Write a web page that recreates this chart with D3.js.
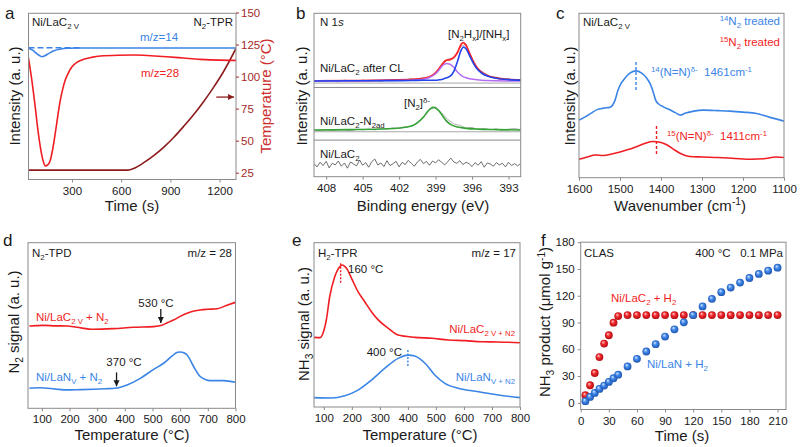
<!DOCTYPE html>
<html>
<head>
<meta charset="utf-8">
<script src="https://cdn.jsdelivr.net/npm/d3@7/dist/d3.min.js"></script>
<style>
  body { margin: 0; background: #fff; }
  text { font-family: "Liberation Sans", Arial, sans-serif; white-space: pre; }
</style>
</head>
<body>
<script>
// ---------- data ----------

// a: N2-TPR, intensity in arbitrary units, temperature in degC
const aTimeRed = [35, 55, 76, 92, 107, 122, 137, 152, 168, 183, 198, 214, 229, 244, 259, 280, 300, 330, 371, 420, 473, 580, 676, 780, 879, 980, 1082, 1200, 1300];
const aRed = [73, 60, 43.7, 30, 19.6, 12, 8.2, 8.8, 11.6, 18.5, 27.7, 38.5, 47.8, 54.5, 59.8, 64.5, 67.8, 70.5, 72.3, 73.5, 74.3, 74.8, 74.9, 74.5, 73.9, 73.1, 72.3, 71.8, 71.7];
const aTimeBlue = [35, 60, 85, 105, 117, 135, 160, 190, 230, 270, 350, 700, 1000, 1300];
const aBlue = [79.1, 77.8, 75.8, 74.4, 73.9, 74.5, 75.9, 77.4, 78.5, 79.0, 79.1, 79.1, 79.1, 79.1];
const aTimeDash = [35, 350];
const aDash = [79.3, 79.3];
const aTimeTemp = [35, 640, 680, 740, 800, 860, 920, 980, 1040, 1100, 1160, 1220, 1300];
const aTemp = [27, 27, 28.5, 33, 38.5, 45, 52.5, 61, 70, 80, 91, 103, 122];

// b: N 1s XPS, fitted components (above each spectrum's baseline)
const bEv = [409, 406, 403, 401, 400, 399.5, 399, 398.7, 398.4, 398.1, 397.8, 397.5, 397.2, 396.9, 396.7, 396.5, 396.2, 395.9, 395.6, 395.2, 394.7, 394, 393, 392];
const bNHx = [0.1, 0.2, 0.3, 0.4, 0.5, 0.5, 0.5, 0.8, 1.2, 2, 3, 6, 12, 19, 20.9, 19.8, 15.5, 11, 7.5, 4.8, 3, 1.7, 0.9, 0.6];
const bN2Hx = [0, 0.1, 0.3, 0.6, 1.2, 2.2, 4.5, 7, 9.7, 10.8, 10.2, 8.5, 5.5, 3.5, 2.6, 2.1, 1.5, 1.1, 0.8, 0.5, 0.3, 0.2, 0.1, 0];
const bEnvelope = [0.1, 0.3, 0.6, 1.0, 1.7, 2.7, 5.0, 7.8, 10.9, 12.8, 13.2, 14.5, 17.5, 22.5, 23.5, 21.9, 17.0, 12.1, 8.3, 5.3, 3.3, 1.9, 1.0, 0.6];
const bEvN2 = [409, 406, 403, 402, 401, 400.5, 400, 399.7, 399.4, 399.2, 399, 398.7, 398.4, 398.1, 397.7, 397.2, 396.5, 395.5, 394, 392];
const bN2ad = [0.1, 0.3, 0.8, 1.3, 2.5, 4.5, 8, 11, 13.3, 13.9, 13.5, 11.5, 8.5, 5.5, 3.2, 1.9, 1.1, 0.6, 0.3, 0.1];
const bRawCL = [0.3, -0.4, 0.5, 0.1, -0.5, 0.6, 0.2, -0.3, 0.7, 0.0, 0.4, -0.2, 0.9, 0.3, 1.1, 0.6, 1.6, 1.0, 2.3, 2.2, 5.5, 9.5, 13.5, 14.0, 20.5, 22.8, 13.5, 7.0, 5.2, 2.8, 2.5, 1.0, 1.6, 0.4, 0.9];
const bRawN2 = [0.2, -0.3, 0.4, -0.2, 0.3, 0.1, -0.4, 0.5, 0.2, 0.6, 0.1, 0.9, 0.5, 1.4, 1.0, 2.0, 2.2, 4.8, 7.5, 12.5, 14.2, 10.5, 6.5, 3.8, 2.9, 1.2, 1.6, 0.4, 1.0, 0.2, 0.8, -0.2, 0.6, 1.0, 0.3];
const bRawBare = [0.4, -1.6, 1.2, -0.8, 1.8, -2.2, 0.6, -0.4, 2.0, -1.2,
  0.8, -2.4, 1.4, 0.2, -1.0, 2.6, -0.6, 1.0, -1.8, 1.6,
  3.2, -0.4, 0.8, -1.4, 2.2, -0.8, 0.4, 1.8, -1.6, 1.2,
  -0.2, 2.4, 0.6, -1.2, 1.4, 3.0, 0.4, 1.8, -0.6, 2.0,
  0.8, 2.8, 1.2, -0.4, 1.6, 3.8, 1.4, 0.6, 2.2, -0.2,
  1.2, 0.4, -1.4, 1.0, -0.6, 1.6, -1.8, 0.8, 0.2, -1.2,
  1.0, -0.4, 0.6, -1.6, 1.2, -0.8, 0.4, -1.0, 0.6];
const bOffsets = { cl: 58.5, n2: 28.5, bare: 7.6 };

// c: Raman / IR spectra
const cWnBlue = [1600, 1585, 1570, 1556, 1540, 1524, 1512, 1505, 1497, 1490, 1475, 1461, 1448, 1436, 1426, 1419, 1413, 1405, 1394, 1380, 1365, 1353, 1340, 1320, 1297, 1260, 1232, 1200, 1167, 1134, 1100];
const cBlue = [35.0, 37.0, 39.3, 41.4, 42.3, 42.9, 47.2, 53.2, 57.5, 59.9, 63.8, 65.0, 63.8, 61.0, 56.9, 52.2, 47.2, 44.7, 43.1, 41.5, 39.6, 38.1, 39.3, 40.5, 41.1, 40.8, 40.5, 39.9, 39.1, 36.7, 34.4];
const cWnRed = [1600, 1580, 1560, 1540, 1520, 1500, 1480, 1460, 1440, 1420, 1400, 1385, 1370, 1350, 1330, 1300, 1260, 1220, 1180, 1150, 1120, 1100];
const cRed = [11.2, 12.6, 13.8, 13.5, 14.4, 15.6, 17.1, 18.9, 20.8, 22.0, 21.4, 19.9, 17.4, 14.4, 12.9, 12.6, 12.3, 11.7, 11.2, 11.5, 12.6, 12.3];

// d: N2-TPD
const dTempRed = [55, 106, 150, 191, 227, 287, 359, 432, 504, 534, 555, 576, 600, 625, 650, 673, 700, 733, 769, 800];
const dRed = [49.7, 50.1, 49.8, 49.7, 48.9, 47.7, 48.1, 48.9, 49.3, 50.1, 51.8, 53.3, 55.5, 57.4, 58.7, 59.4, 59.8, 60.1, 62.2, 64.0];
const dTempBlue = [55, 94, 150, 191, 240, 287, 330, 366, 408, 456, 504, 540, 571, 590, 601, 613, 625, 649, 673, 709, 757, 800];
const dBlue = [12.1, 12.4, 11.6, 11.1, 11.3, 11.5, 11.8, 12.1, 14.1, 18.1, 23.5, 27.2, 31.6, 33.8, 34.0, 33.5, 32.2, 25.1, 19.1, 16.7, 16.7, 15.7];

// e: H2-TPR
const eTempRed = [65, 86, 97, 109, 121, 139, 157, 165, 181, 199, 222, 246, 270, 294, 330, 365, 425, 485, 544, 604, 663, 722, 800];
const eRed = [42.4, 42.2, 44.9, 53.0, 67.1, 79.3, 85.4, 86.4, 84.4, 78.3, 70.2, 64.1, 58.0, 53.0, 47.9, 43.8, 42.4, 41.8, 40.8, 40.4, 39.7, 39.6, 39.1];
const eTempBlue = [65, 127, 175, 222, 270, 318, 365, 401, 425, 461, 496, 532, 580, 651, 723, 800];
const eBlue = [5.7, 5.5, 6.9, 10.3, 16.4, 23.6, 29.6, 31.6, 31.0, 26.6, 19.5, 14.4, 11.4, 9.3, 7.3, 5.7];

// f: CLAS NH3 product
const fTime = [5, 10, 15, 20, 25, 30, 35, 40, 50, 60, 70, 80, 90, 100, 110, 120, 130, 140, 150, 160, 170, 180, 190, 200, 210];
const fLaC2 = [8.5, 19.7, 33.4, 51.2, 66.4, 75.7, 89.8, 97.2, 98.3, 98.3, 98.3, 98.2, 98.3, 98.2, 98.3, 98.3, 98.3, 98.3, 98.3, 98.2, 98.3, 98.3, 98.2, 98.3, 98.3];
const fLaN = [1.8, 6.6, 11.1, 15.6, 19.3, 23.4, 27.5, 31.5, 40.8, 49.3, 57.5, 65.7, 74.2, 82.4, 90.2, 98.3, 108, 116.5, 124, 129.2, 134.7, 139.9, 144.4, 148.1, 151.4];

// ---------- styles ----------
const ink = '#1a1a1a';
const frameCol = '#8a8a8a';
const blue = '#3a84e6';
const red = '#f01e23';
const tickFs = 11.5, titleFs = 15, noteFs = 11.5;

const svg = d3.select('body').append('svg').attr('width', 800).attr('height', 447);
const defs = svg.append('defs');

function rich(x, y, parts, o = {}) {
  const fs = o.size || noteFs;
  const t = svg.append('text').attr('x', x).attr('y', y)
    .attr('font-size', fs).attr('fill', o.color || ink)
    .attr('text-anchor', o.anchor || 'start');
  if (o.rotate) t.attr('transform', `rotate(-90,${x},${y})`);
  let off = 0;
  parts.forEach(p => {
    const [s, k] = Array.isArray(p) ? p : [p];
    const target = k === 'sub' ? fs * 0.28 : k === 'sup' ? -fs * 0.38 : 0;
    const ts = t.append('tspan').attr('dy', target - off).text(s);
    if (k === 'sub' || k === 'sup') ts.attr('font-size', fs * 0.68);
    if (k === 'i') ts.attr('font-style', 'italic');
    off = target;
  });
  return t;
}
function ytitle(cx, cy, parts, color) {
  rich(cx + titleFs * 0.35, cy, parts, { size: titleFs, anchor: 'middle', rotate: true, color });
}

function makeClip(id, x0, y0, x1, y1) {
  defs.append('clipPath').attr('id', id).append('rect')
    .attr('x', x0).attr('y', y0).attr('width', x1 - x0).attr('height', y1 - y0);
  return svg.append('g').attr('clip-path', `url(#${id})`);
}
function frame(x0, y0, x1, y1) {
  svg.append('rect').attr('x', x0).attr('y', y0).attr('width', x1 - x0).attr('height', y1 - y0)
    .attr('fill', 'none').attr('stroke', frameCol).attr('stroke-width', 1);
}
function styleAxis(ax, color) {
  ax.select('.domain').remove();
  ax.attr('font-size', tickFs).attr('font-family', '"Liberation Sans", Arial, sans-serif');
  ax.selectAll('line').attr('stroke', frameCol);
  ax.selectAll('text').attr('fill', color || ink);
}
function bottomAxis(x, y, ticks, fmt) {
  const ax = svg.append('g').attr('transform', `translate(0,${y})`)
    .call(d3.axisBottom(x).tickValues(ticks).tickSize(3).tickPadding(4).tickSizeOuter(0).tickFormat(fmt || d3.format('d')));
  styleAxis(ax);
}
function drawLine(g, xs, ys, x, y, color, w, dash, off = 0) {
  const p = g.append('path')
    .datum(xs.map((v, i) => [v, ys[i] + off]))
    .attr('d', d3.line().x(d => x(d[0])).y(d => y(d[1])).curve(d3.curveMonotoneX))
    .attr('fill', 'none').attr('stroke', color).attr('stroke-width', w || 1.5);
  if (dash) p.attr('stroke-dasharray', dash);
  return p;
}
function arrow(x1, y1, x2, y2, color, head) {
  svg.append('line').attr('x1', x1).attr('y1', y1).attr('x2', x2).attr('y2', y2)
    .attr('stroke', color).attr('stroke-width', 1.3);
  const a = Math.atan2(y2 - y1, x2 - x1), h = head || 6, wdt = 3;
  const bx = x2 - h * Math.cos(a), by = y2 - h * Math.sin(a);
  svg.append('path')
    .attr('d', `M${x2},${y2}L${bx - wdt * Math.sin(a)},${by + wdt * Math.cos(a)}L${bx + wdt * Math.sin(a)},${by - wdt * Math.cos(a)}Z`)
    .attr('fill', color);
}
function vdash(x, yA, yB, color, dash) {
  svg.append('line').attr('x1', x).attr('x2', x).attr('y1', yA).attr('y2', yB)
    .attr('stroke', color).attr('stroke-width', 1.4).attr('stroke-dasharray', dash || '3,2');
}

// ================= a =================
{
  const L = 28.5, R = 236, T = 13.3, B = 179.5;
  const x = d3.scaleLinear().domain([35, 1300]).range([L, R]);
  const y = d3.scaleLinear().domain([0, 100]).range([B, T]);
  const yT = d3.scaleLinear().domain([25, 150]).range([172.7, 12.5]);
  const g = makeClip('clipA', L, T, R, B);
  drawLine(g, aTimeTemp, aTemp, x, yT, '#8c1c1c', 1.6);
  drawLine(g, aTimeRed, aRed, x, y, red, 1.6);
  drawLine(g, aTimeDash, aDash, x, y, blue, 1.5, '6,3');
  drawLine(g, aTimeBlue, aBlue, x, y, blue, 1.6);
  frame(L, T, R, B);
  bottomAxis(x, B, [300, 600, 900, 1200]);
  const ax = svg.append('g').attr('transform', `translate(${R},0)`)
    .call(d3.axisRight(yT).tickValues([25, 50, 75, 100, 125, 150]).tickSize(3).tickPadding(2).tickSizeOuter(0));
  styleAxis(ax, '#a52a2a');
  ax.selectAll('line').attr('stroke', '#a52a2a');
  ytitle(15, 96, ['Intensity (a. u.)']);
  ytitle(266, 96, ['Temperature (°C)'], '#cc2e2e');
  rich(132, 211, ['Time (s)'], { size: titleFs, anchor: 'middle' });
  rich(32, 26, ['Ni/LaC', ['2 V', 'sub']]);
  rich(233, 26, ['N', ['2', 'sub'], '-TPR'], { anchor: 'end' });
  rich(140, 41, ['m/z=14'], { color: blue });
  rich(141, 77, ['m/z=28'], { color: red });
  arrow(x(1180), yT(84), x(1288), yT(84), '#8c1c1c', 6);
  rich(5, 18.5, ['a'], { size: 17 });
}

// ================= b =================
{
  const L = 314, R = 520.7, T = 13.3, B = 176.7;
  const x = d3.scaleLinear().domain([409, 392]).range([L, R]);
  const y = d3.scaleLinear().domain([0, 100]).range([B, T]);
  const g = makeClip('clipB', L, T, R, B);
  const rawEv = bRawCL.map((_, i) => 409 - i * 0.5);
  const bareEv = bRawBare.map((_, i) => 409 - i * 0.25);
  // separators and baselines
  [54.6, 22.4].forEach(v => g.append('line').attr('x1', L).attr('x2', R).attr('y1', y(v)).attr('y2', y(v))
    .attr('stroke', '#8a8a8a').attr('stroke-width', 1));
  [bOffsets.cl - 1.2, bOffsets.n2 - 1.0].forEach(v => g.append('line').attr('x1', L).attr('x2', R).attr('y1', y(v)).attr('y2', y(v))
    .attr('stroke', '#a8a8a8').attr('stroke-width', 1));
  const rawLine = (xs, ys, off) => g.append('path')
    .datum(xs.map((v, i) => [v, ys[i] + off]))
    .attr('d', d3.line().x(d => x(d[0])).y(d => y(d[1])))
    .attr('fill', 'none').attr('stroke', '#b0b0b0').attr('stroke-width', 1);
  rawLine(rawEv, bRawCL, bOffsets.cl);
  rawLine(rawEv, bRawN2, bOffsets.n2);
  g.append('path').datum(bareEv.map((v, i) => [v, bRawBare[i] + bOffsets.bare]))
    .attr('d', d3.line().x(d => x(d[0])).y(d => y(d[1])))
    .attr('fill', 'none').attr('stroke', '#4a4a4a').attr('stroke-width', 0.8);
  drawLine(g, bEv, bEnvelope, x, y, '#ff2424', 1.8, null, bOffsets.cl);
  drawLine(g, bEv, bN2Hx, x, y, '#b56cf2', 1.5, null, bOffsets.cl);
  drawLine(g, bEv, bNHx, x, y, '#2244ee', 1.6, null, bOffsets.cl);
  drawLine(g, bEvN2, bN2ad, x, y, '#36a336', 1.6, null, bOffsets.n2);
  frame(L, T, R, B);
  bottomAxis(x, B, [408, 405, 402, 399, 396, 393]);
  ytitle(302, 96, ['Intensity (a. u.)']);
  rich(423, 211, ['Binding energy (eV)'], { size: titleFs, anchor: 'middle' });
  rich(320, 26, ['N 1', ['s', 'i']]);
  rich(448, 38, ['[N', ['2', 'sub'], 'H', ['x', 'sub'], ']/[NH', ['x', 'sub'], ']']);
  rich(320, 72, ['Ni/LaC', ['2', 'sub'], ' after CL']);
  rich(404, 107, ['[N', ['2', 'sub'], ']', ['δ-', 'sup']]);
  rich(320, 125, ['Ni/LaC', ['2', 'sub'], '-N', ['2ad', 'sub']]);
  rich(320, 158, ['Ni/LaC', ['2', 'sub']]);
  rich(296, 18.5, ['b'], { size: 17 });
}

// ================= c =================
{
  const L = 579, R = 784, T = 13.3, B = 177.7;
  const x = d3.scaleLinear().domain([1600, 1100]).range([L, R]);
  const y = d3.scaleLinear().domain([0, 100]).range([B, T]);
  const g = makeClip('clipC', L, T, R, B);
  drawLine(g, cWnBlue, cBlue, x, y, blue, 1.6);
  drawLine(g, cWnRed, cRed, x, y, red, 1.6);
  frame(L, T, R, B);
  bottomAxis(x, B, [1600, 1500, 1400, 1300, 1200, 1100]);
  vdash(x(1461), y(70.4), y(52.2), blue);
  vdash(x(1411), y(31.4), y(13.2), red);
  ytitle(570, 96, ['Intensity (a. u.)']);
  rich(680, 211, ['Wavenumber (cm', ['-1', 'sup'], ')'], { size: titleFs, anchor: 'middle' });
  rich(583, 26, ['Ni/LaC', ['2 V', 'sub']]);
  rich(780, 25, [['14', 'sup'], 'N', ['2', 'sub'], ' treated'], { anchor: 'end', color: blue });
  rich(780, 46, [['15', 'sup'], 'N', ['2', 'sub'], ' treated'], { anchor: 'end', color: red });
  rich(651, 76, [['14', 'sup'], '(N=N)', ['δ-', 'sup'], '  1461cm', ['-1', 'sup']], { color: blue });
  rich(667, 140, [['15', 'sup'], '(N=N)', ['δ-', 'sup'], '  1411cm', ['-1', 'sup']], { color: red });
  rich(556, 18.5, ['c'], { size: 17 });
}

// ================= d =================
{
  const L = 28, R = 235.5, T = 242.7, B = 408.3;
  const x = d3.scaleLinear().domain([50, 800]).range([L, R]);
  const y = d3.scaleLinear().domain([0, 100]).range([B, T]);
  const g = makeClip('clipD', L, T, R, B);
  drawLine(g, dTempRed, dRed, x, y, red, 1.6);
  drawLine(g, dTempBlue, dBlue, x, y, blue, 1.6);
  frame(L, T, R, B);
  bottomAxis(x, B, [100, 200, 300, 400, 500, 600, 700, 800]);
  arrow(x(530), y(60), x(530), y(51.5), ink, 6);
  arrow(x(370), y(21.7), x(370), y(13.3), ink, 6);
  ytitle(14, 322, ['N', ['2', 'sub'], ' signal (a. u.)']);
  rich(132, 440, ['Temperature (°C)'], { size: titleFs, anchor: 'middle' });
  rich(32, 257, ['N', ['2', 'sub'], '-TPD']);
  rich(232, 257, ['m/z = 28'], { anchor: 'end' });
  rich(156, 307, ['530 °C'], { anchor: 'middle' });
  rich(124, 366, ['370 °C'], { anchor: 'middle' });
  rich(36, 321, ['Ni/LaC', ['2 V', 'sub'], ' + N', ['2', 'sub']], { color: red });
  rich(36, 381, ['Ni/LaN', ['V', 'sub'], ' + N', ['2', 'sub']], { color: blue });
  rich(3, 246, ['d'], { size: 17 });
}

// ================= e =================
{
  const L = 314, R = 520, T = 242.7, B = 407;
  const x = d3.scaleLinear().domain([65, 800]).range([L, R]);
  const y = d3.scaleLinear().domain([0, 100]).range([B, T]);
  const g = makeClip('clipE', L, T, R, B);
  drawLine(g, eTempRed, eRed, x, y, red, 1.6);
  drawLine(g, eTempBlue, eBlue, x, y, blue, 1.6);
  frame(L, T, R, B);
  bottomAxis(x, B, [100, 200, 300, 400, 500, 600, 700, 800]);
  vdash(x(160), y(87.5), y(75.3), red, '2,1.5');
  vdash(x(400), y(34.7), y(24.5), blue, '2,1.5');
  ytitle(304, 324, ['NH', ['3', 'sub'], ' signal (a. u.)']);
  rich(420, 440, ['Temperature (°C)'], { size: titleFs, anchor: 'middle' });
  rich(318, 257, ['H', ['2', 'sub'], '-TPR']);
  rich(516, 257, ['m/z = 17'], { anchor: 'end' });
  rich(348, 273, ['160 °C']);
  rich(402, 356, ['400 °C'], { anchor: 'end' });
  rich(515, 333, ['Ni/LaC', ['2 V + N2', 'sub']], { anchor: 'end', color: red });
  rich(515, 381, ['Ni/LaN', ['V + N2', 'sub']], { anchor: 'end', color: blue });
  rich(292, 246, ['e'], { size: 17 });
}

// ================= f =================
{
  const L = 580.7, R = 786, T = 242.2, B = 409.5;
  const x = d3.scaleLinear().domain([0, 219]).range([L, R]);
  const y = d3.scaleLinear().domain([-7.5, 180]).range([B, T]);
  const grad = (id, c0, c1, c2) => {
    const rg = defs.append('radialGradient').attr('id', id)
      .attr('cx', '50%').attr('cy', '50%').attr('r', '55%').attr('fx', '35%').attr('fy', '30%');
    rg.append('stop').attr('offset', '0%').attr('stop-color', c0);
    rg.append('stop').attr('offset', '45%').attr('stop-color', c1);
    rg.append('stop').attr('offset', '100%').attr('stop-color', c2);
  };
  grad('sphR', '#ffd0d0', '#f0262a', '#a80c10');
  grad('sphB', '#d6e6ff', '#3d86e8', '#1c4fa8');
  const g = svg.append('g');
  g.selectAll('.pr').data(fTime.map((t, i) => [t, fLaC2[i]])).enter().append('circle')
    .attr('cx', d => x(d[0])).attr('cy', d => y(d[1])).attr('r', 3.9).attr('fill', 'url(#sphR)');
  g.selectAll('.pb').data(fTime.map((t, i) => [t, fLaN[i]])).enter().append('circle')
    .attr('cx', d => x(d[0])).attr('cy', d => y(d[1])).attr('r', 3.9).attr('fill', 'url(#sphB)');
  frame(L, T, R, B);
  bottomAxis(x, B, [0, 30, 60, 90, 120, 150, 180, 210]);
  const ay = svg.append('g').attr('transform', `translate(${L},0)`)
    .call(d3.axisLeft(y).tickValues([0, 30, 60, 90, 120, 150, 180]).tickSize(3).tickPadding(3).tickSizeOuter(0));
  styleAxis(ay);
  ytitle(545, 322, ['NH', ['3', 'sub'], ' product (μmol g', ['-1', 'sup'], ')']);
  rich(682, 441, ['Time (s)'], { size: titleFs, anchor: 'middle' });
  rich(584, 257, ['CLAS']);
  rich(783, 257, ['400 °C   0.1 MPa'], { anchor: 'end' });
  rich(611, 302, ['Ni/LaC', ['2', 'sub'], ' + H', ['2', 'sub']], { color: red });
  rich(647, 368, ['Ni/LaN + H', ['2', 'sub']], { color: blue });
  rich(541, 246, ['f'], { size: 17 });
}
</script>
</body>
</html>
